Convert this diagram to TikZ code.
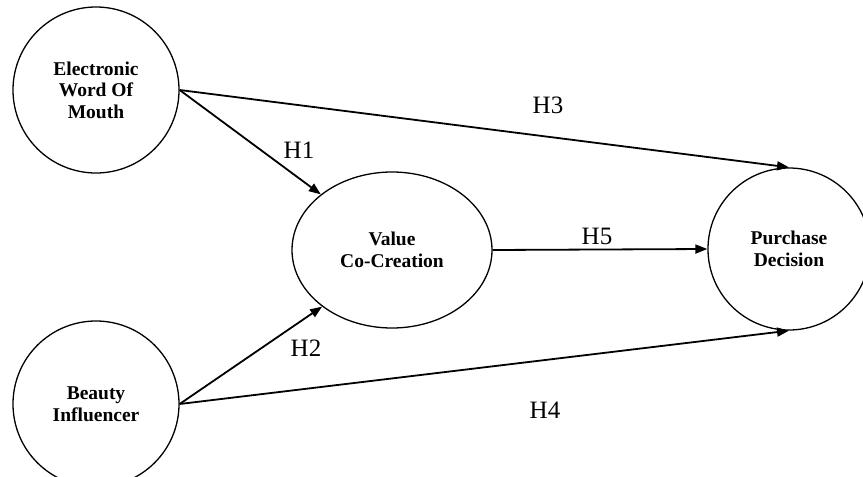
\documentclass[tikz,border=0pt]{standalone}
\usepackage{fontspec}
\setmainfont{Liberation Serif}
\usetikzlibrary{shapes.geometric,arrows.meta}
\begin{document}
\begin{tikzpicture}[x=1pt,y=-1pt,
  construct/.style={draw=black,line width=1.3pt,align=center,inner sep=0pt,
    font=\bfseries\fontsize{19.5}{21.5}\selectfont},
  link/.style={line width=1.8pt,-{Triangle[length=12pt,width=9pt]}},
  hyp/.style={font=\fontsize{25}{28}\selectfont,inner sep=0pt}]
\useasboundingbox (0,0) rectangle (863,477);
\node[construct,circle,minimum size=166pt] (ewom) at (96,90) {Electronic\\Word Of\\Mouth};
\node[construct,circle,minimum size=166pt] (bi) at (96,404) {Beauty\\Influencer};
\node[construct,ellipse,minimum width=200pt,minimum height=156pt] (vcc) at (392,250) {Value\\Co-Creation};
\node[construct,circle,minimum size=162pt] (pd) at (789,249) {Purchase\\Decision};
\draw[link] (ewom.east) -- (vcc.142);
\draw[link] (bi.east) -- (vcc.219);
\draw[link] (ewom.east) -- (pd.north);
\draw[link] (bi.east) -- (pd.south);
\draw[link] (vcc.east) -- (pd.west);
\node[hyp] (h1) at (299,150) {H1};
\node[hyp] (h2) at (306,348) {H2};
\node[hyp] (h3) at (548,105) {H3};
\node[hyp] (h4) at (545,410) {H4};
\node[hyp] (h5) at (597,236) {H5};
\end{tikzpicture}
\end{document}
